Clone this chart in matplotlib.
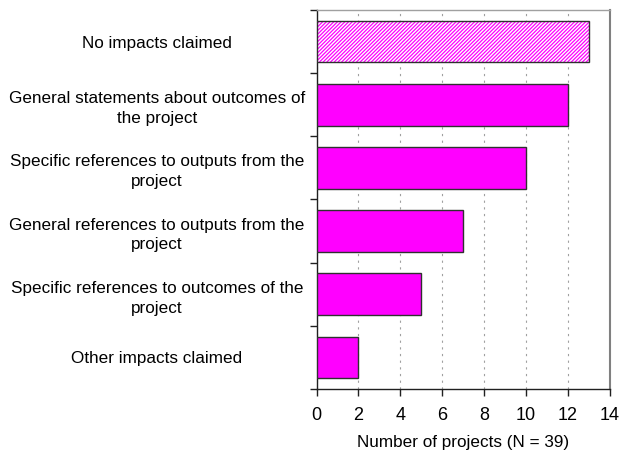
import matplotlib
matplotlib.use("Agg")
import matplotlib.pyplot as plt
import numpy as np

categories = [
    "No impacts claimed",
    "General statements about outcomes of\nthe project",
    "Specific references to outputs from the\nproject",
    "General references to outputs from the\nproject",
    "Specific references to outcomes of the\nproject",
    "Other impacts claimed",
]
values = [13, 12, 10, 7, 5, 2]
xticks = [0, 2, 4, 6, 8, 10, 12, 14]

plt.rcParams['font.family'] = ['Liberation Sans', 'DejaVu Sans']
plt.rcParams['hatch.linewidth'] = 0.9

fig = plt.figure(figsize=(6.2, 4.62), dpi=100)
ax = fig.add_axes([316.5/620, 1 - 389/462, (609.5-316.5)/620, (389-10)/462])

y = np.arange(len(categories))[::-1]
for i, (yy, v) in enumerate(zip(y, values)):
    if i == 0:
        ax.barh(yy, v, height=0.66, color='white', edgecolor='#ff00ff', hatch='/////////', linewidth=0, zorder=3)
        ax.barh(yy, v, height=0.66, color='none', edgecolor='#303030', linewidth=1.0, zorder=4)
    else:
        ax.barh(yy, v, height=0.66, color='#ff00ff', edgecolor='#303030', linewidth=1.0, zorder=3)

ax.set_xlim(0, 14)
ax.set_ylim(-0.5, len(categories) - 0.5)
ax.set_xticks(xticks)
ax.set_xticklabels([str(t) for t in xticks], fontsize=13)
ax.set_yticks(y)
ax.set_yticklabels(categories, fontsize=12.3, ha='center', multialignment='center', linespacing=1.4)
ax.tick_params(axis='y', which='major', length=0, pad=115)
ax.set_yticks(np.arange(-0.5, len(categories), 1.0), minor=True)
ax.tick_params(axis='y', which='minor', length=5, width=1, color='#202020', direction='out')
ax.tick_params(axis='x', length=5, width=1, color='#202020', direction='out', pad=8)
ax.xaxis.grid(True, linestyle=(0, (2, 4)), color='#a0a0a0', linewidth=0.8, zorder=0)
ax.set_axisbelow(True)

for s in ['left', 'bottom']:
    ax.spines[s].set_color('#202020')
    ax.spines[s].set_linewidth(1.0)
ax.spines['top'].set_color('#a0a0a0')
ax.spines['top'].set_linewidth(1.0)
ax.spines['right'].set_color('#808080')
ax.spines['right'].set_linewidth(1.5)

ax.set_xlabel("Number of projects (N = 39)", fontsize=12.3, labelpad=8)

fig.savefig("out.png", dpi=100)
